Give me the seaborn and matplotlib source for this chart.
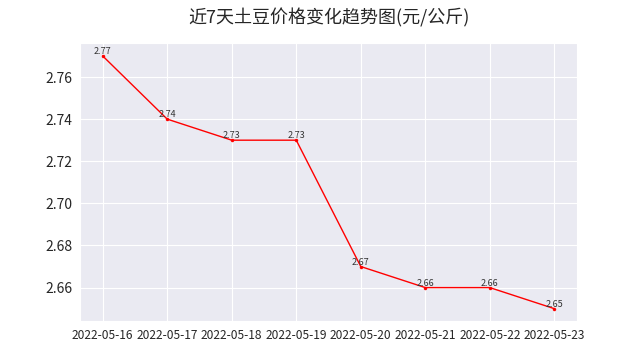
import pandas as pd
import seaborn as sns
import matplotlib
matplotlib.use("Agg")
import matplotlib.pyplot as plt

dates = ["2022-05-16", "2022-05-17", "2022-05-18", "2022-05-19",
         "2022-05-20", "2022-05-21", "2022-05-22", "2022-05-23"]
prices = [2.77, 2.74, 2.73, 2.73, 2.67, 2.66, 2.66, 2.65]

sns.set_style("darkgrid")
plt.rcParams['font.family'] = ['Noto Sans CJK SC', 'DejaVu Sans']
plt.rcParams['axes.unicode_minus'] = False

df = pd.DataFrame({"date": dates, "price": prices})

fig = plt.figure(figsize=(6.41, 3.61), dpi=100)
ax = fig.add_subplot(111)
sns.lineplot(data=df, x="date", y="price", color="red", linewidth=1,
             marker="o", markersize=2.5, markeredgewidth=0, ax=ax, sort=False)

for x, y in zip(df["date"], df["price"]):
    ax.text(x, y, f"{y}", ha="center", va="bottom", fontsize=6.5, color="#333333")

ax.set_title("近7天土豆价格变化趋势图(元/公斤)", fontsize=13, pad=14)
ax.set_xlabel("")
ax.set_ylabel("")
ax.tick_params(axis="x", labelsize=8.6, pad=2)
ax.tick_params(axis="y", labelsize=10, pad=2)

fig.savefig("out.png", dpi=100)
